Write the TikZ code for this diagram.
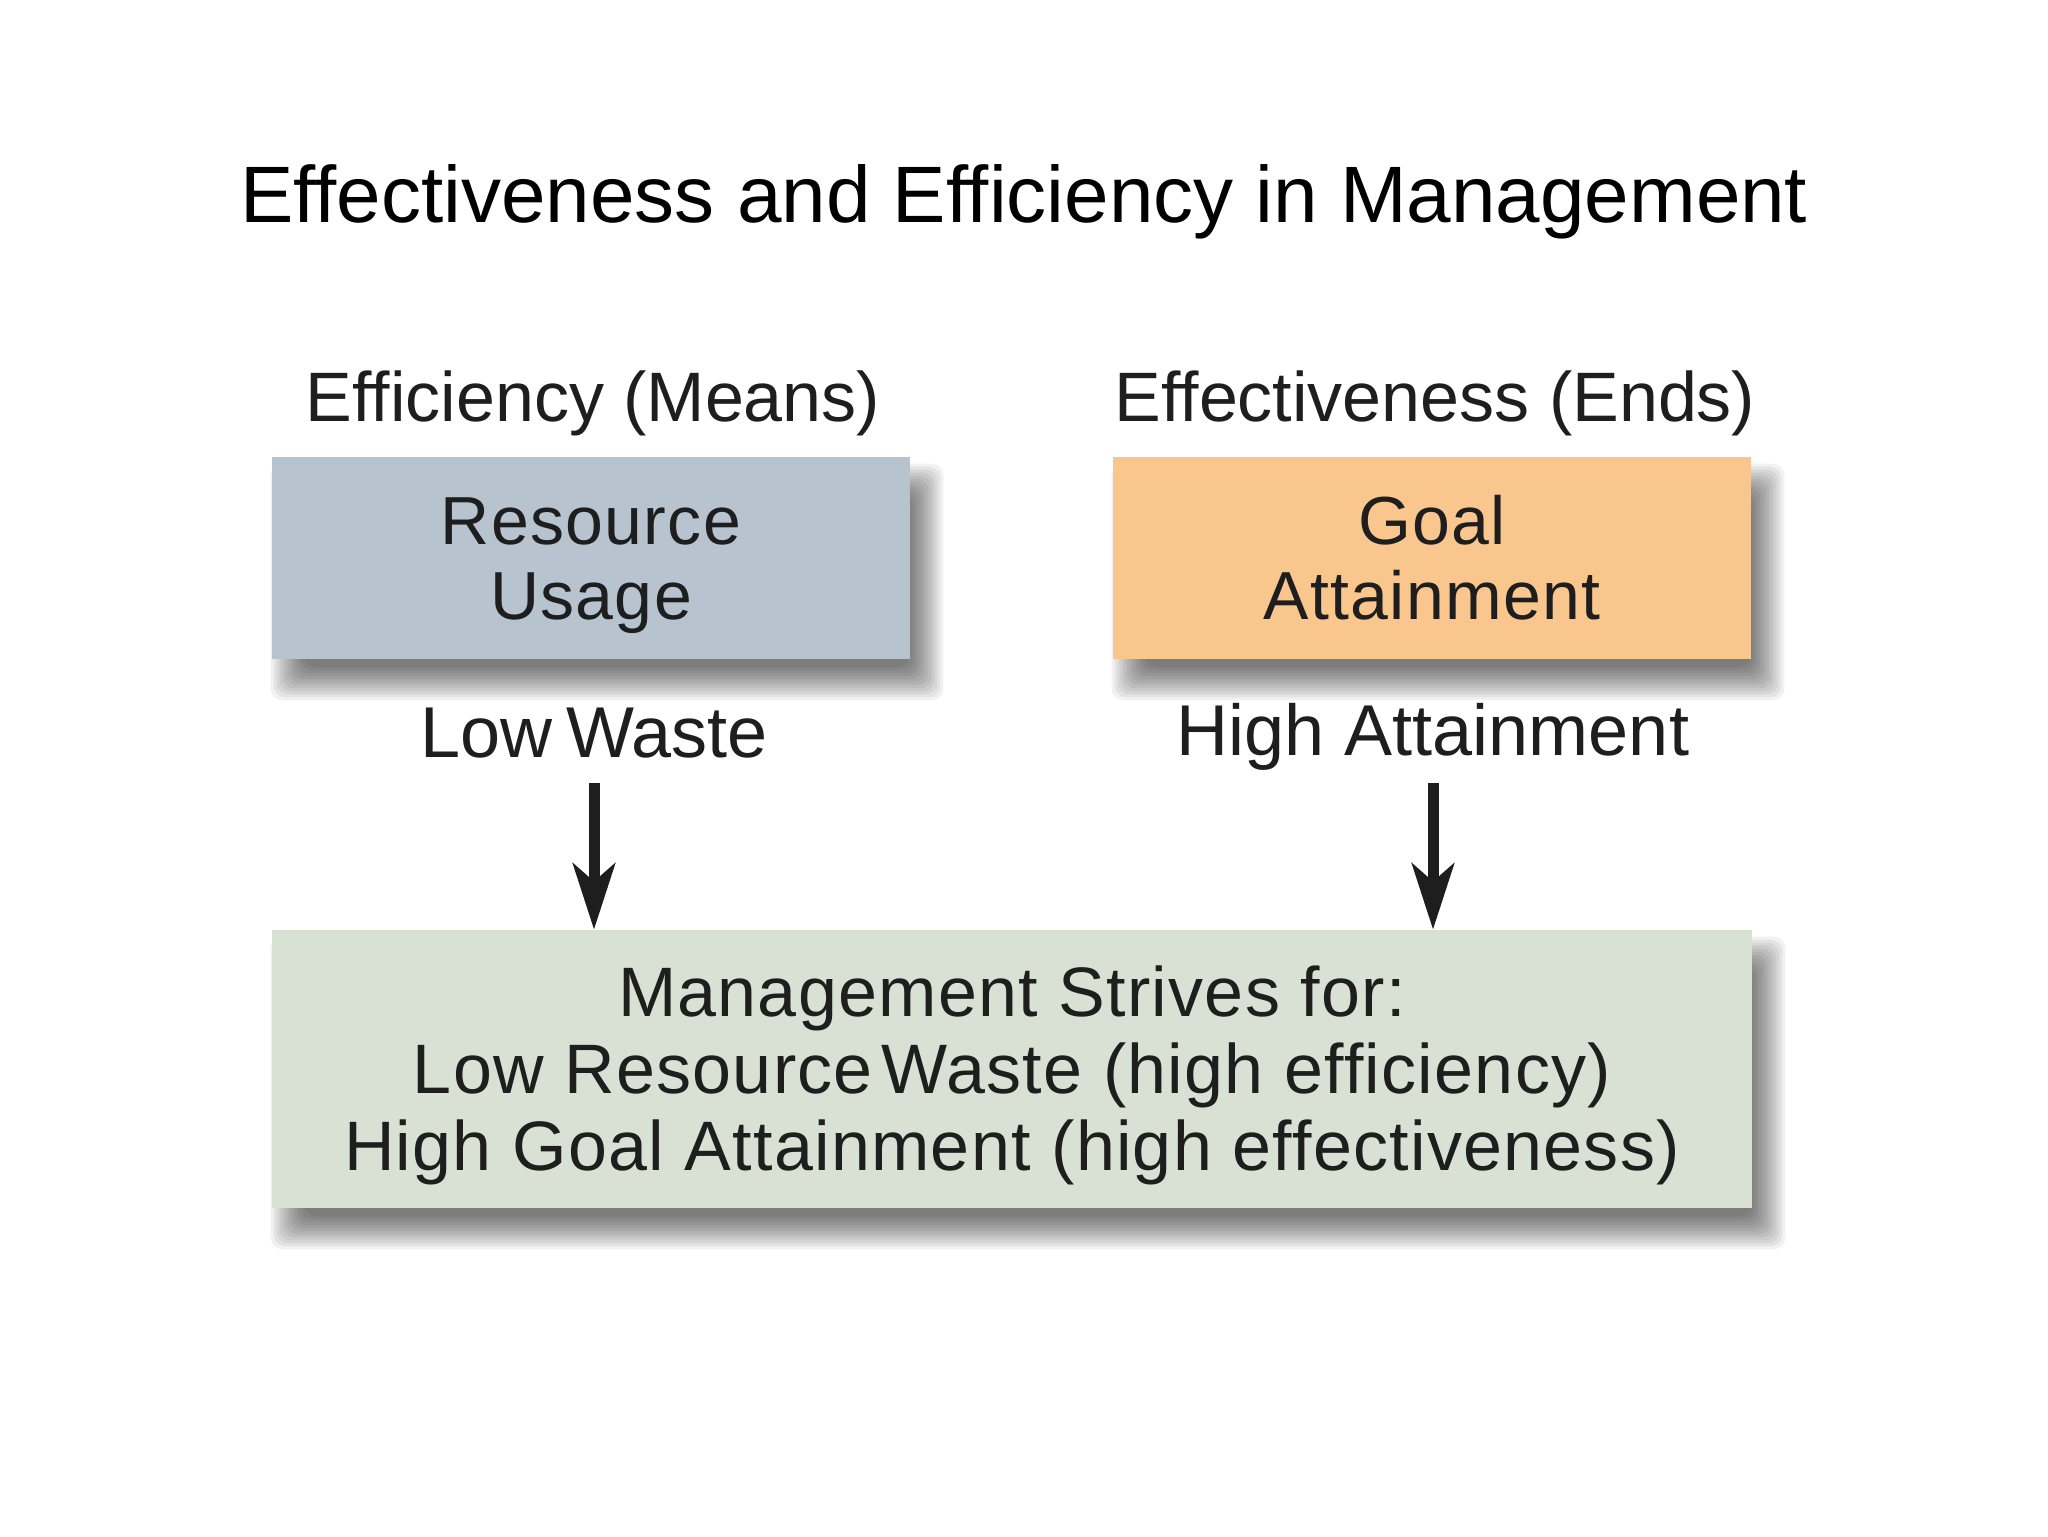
\documentclass[tikz,border=0pt]{standalone}
\usepackage{fontspec}
\setmainfont{Liberation Sans}
\newfontfamily\boxfont[LetterSpace=2.0]{Liberation Sans}
\newfontfamily\mgmtfont[LetterSpace=1.8]{Liberation Sans}
\usetikzlibrary{arrows.meta}
\pgfdeclarelayer{background}
\pgfsetlayers{background,main}
\definecolor{txt}{HTML}{1E1E1E}
\definecolor{bluebox}{HTML}{B7C4D0}
\definecolor{orangebox}{HTML}{F9C68D}
\definecolor{greenbox}{HTML}{D8E1D3}
\tikzset{
  box/.style={rectangle, inner sep=0pt, align=center, text=txt,
    font=\boxfont\fontsize{34}{37.5}\selectfont},
  shadowlayer/.style={fill=black, fill opacity=0.055, draw=none, rounded corners=6pt},
  head/.style={text=txt, font=\fontsize{35}{40}\selectfont, inner sep=0pt, anchor=base},
  flowarrow/.style={line width=5.5pt, draw=txt,
    -{Stealth[length=33pt, width=21pt, inset=9pt]}}
}
\newcommand{\softshadow}[1]{%
  \foreach \e in {-16,-13,...,17}{%
    \fill[shadowlayer] ([shift={({16-\e},{24+\e})}]#1.south west)
      rectangle ([shift={({16+\e},{24-\e})}]#1.north east);
  }%
}
\begin{document}
\begin{tikzpicture}[x=0.5pt,y=-0.5pt]
\useasboundingbox (0,0) rectangle (2048,1536);
\node[inner sep=0pt, anchor=base, font=\fontsize{40}{46}\selectfont] (title) at (1024,222)
  {Effectiveness and Efficiency in Management};
\node[head] (effh) at (593,421) {Efficiency (Means)};
\node[head] (efth) at (1435,421) {Effectiveness (Ends)};
\node[box, fill=bluebox, minimum width=319pt, minimum height=101pt] (res) at (591,558)
  {\rule{0pt}{31pt}Resource\\Usage\rule[-7.5pt]{0pt}{0pt}};
\node[box, fill=orangebox, minimum width=319pt, minimum height=101pt] (goal) at (1432,558)
  {\rule{0pt}{31pt}Goal\\Attainment\rule[-7.5pt]{0pt}{0pt}};
\node[head, font=\fontsize{36}{40}\selectfont] (lw) at (594,757) {Low\hspace{-3pt} Waste};
\node[head, font=\fontsize{36}{40}\selectfont] (ha) at (1433,755) {High Attainment};
\node[box, fill=greenbox, minimum width=740pt, minimum height=139pt,
  font=\mgmtfont\fontsize{35}{38.5}\selectfont] (mgmt) at (1012,1069)
  {\rule{0pt}{32pt}Management Strives for:\\Low Resource\hspace{-6pt} Waste (high efficiency)\\High Goal Attainment (high effectiveness)\rule[-7.5pt]{0pt}{0pt}};
\begin{pgfonlayer}{background}
  \fill[white] (0,0) rectangle (2048,1536);
  \softshadow{res}
  \softshadow{goal}
  \softshadow{mgmt}
\end{pgfonlayer}
\draw[flowarrow] ([yshift=-13pt]lw.base) -- (lw.base |- mgmt.north);
\draw[flowarrow] ([yshift=-14pt]ha.base) -- (ha.base |- mgmt.north);
\end{tikzpicture}
\end{document}
